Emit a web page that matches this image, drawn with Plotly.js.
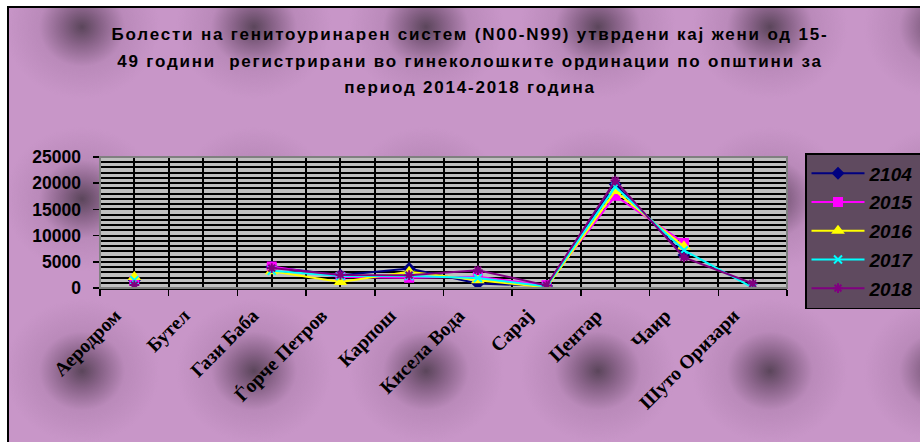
<!DOCTYPE html>
<html><head><meta charset="utf-8">
<script src="https://cdn.plot.ly/plotly-3.0.1.min.js"></script>
<style>
body{margin:0;background:#fff;}
#wrap{position:relative;width:920px;height:442px;overflow:hidden;}
#bg{position:absolute;left:7px;top:6px;width:1000px;height:500px;border-top:2px solid #000;border-left:2px solid #000;background-color:#c896c8;
background-image:radial-gradient(ellipse 78px 72px at 86px 86px, rgba(85,65,85,0.95) 0%, rgba(115,82,115,0.75) 25%, rgba(165,120,165,0.4) 55%, rgba(200,150,200,0) 100%);
background-size:172px 172px;background-position:-13px -67px;}
#chart{position:absolute;left:0;top:0;width:920px;height:442px;}
</style></head>
<body><div id="wrap"><div id="bg"></div><div id="chart"></div></div>
<script>
const categories = ['Аеродром','Бутел','Гази Баба','Ѓорче Петров','Карпош','Кисела Вода','Сарај','Центар','Чаир','Шуто Оризари'];
const seriesNames = ['2104','2015','2016','2017','2018'];
const v2104 = [1500, null, 4000, 2450, 3700, 850, 400, 19800, 6300, null];
const v2015 = [1350, null, 4100, 2100, 1950, 2150, 550, 17600, 8600, null];
const v2016 = [2100, null, 3200, 1150, 3100, 1500, 100, 18500, 7900, null];
const v2017 = [1500, null, 3300, 2300, 2300, 1900, 300, 19300, 7200, 80];
const v2018 = [550, null, 3800, 2500, 2450, 3400, 500, 20500, 5850, 850];
const seriesValues = [v2104, v2015, v2016, v2017, v2018];

const colors = ['#000080','#ff00ff','#ffff00','#00ffff','#800080'];
const symbols = ['diamond','square','triangle-up','x-thin','asterisk'];
const msizes = [10, 10, 12, 8, 8];

const xIdx = categories.map((c,i)=>i);

const traces = seriesNames.map((n,k)=>({
  type:'scatter', mode:'lines+markers', name:n, x:xIdx, y:seriesValues[k],
  connectgaps:false, legendgroup:n,
  line:{color:colors[k], width:2},
  marker:{symbol:symbols[k], size:msizes[k], color:colors[k], line:{color:colors[k], width:(k>=3?2:0)}}
}));

const t1 = 'Болести на генитоуринарен систем (N00-N99) утврдени кај жени од 15-';
const t2 = '49 години\u00a0 регистрирани во гинеколошките ординации по општини за';
const t3 = 'период 2014-2018 година';
const sp = s => '<span style="font-size:17px;letter-spacing:1.8px">'+s+'</span>';

const layout = {
  width:920, height:442,
  margin:{l:100, r:133, t:157, b:154},
  paper_bgcolor:'rgba(0,0,0,0)', plot_bgcolor:'#c0c0c0',
  font:{family:'Liberation Sans, Arial, sans-serif', color:'#000'},
  title:{text: sp(t1)+'<br>'+sp(t2)+'<br>'+sp(t3), font:{family:'Liberation Sans, Arial, sans-serif', size:20.5, color:'#000', weight:'bold'},
    x:470/920, xref:'container', xanchor:'center', y:1-40/442, yref:'container', yanchor:'top'},
  xaxis:{range:[-0.5,9.5], tickvals:xIdx, ticktext:categories, tickangle:-45,
    showgrid:true, gridcolor:'#000', gridwidth:2, ticks:'', zeroline:false,
    showline:true, linecolor:'#000', linewidth:1.5,
    tickfont:{family:'Liberation Serif, Times New Roman, serif', size:19.5, color:'#000', weight:'bold'},
    ticklabelstandoff:7, ticklabelshift:-19,
    minor:{tick0:0.5, dtick:1, showgrid:true, gridcolor:'#000', gridwidth:2, ticks:'outside', ticklen:6, tickcolor:'#000', tickwidth:1.5}},
  yaxis:{range:[0,25000], tickvals:[0,5000,10000,15000,20000,25000], tickformat:'d',
    showgrid:true, gridcolor:'#000', gridwidth:2, zeroline:false,
    showline:true, linecolor:'#000', linewidth:1.5, ticks:'outside', ticklen:6, tickcolor:'#000', tickwidth:1.5,
    tickfont:{family:'Liberation Sans, Arial, sans-serif', size:17.5, color:'#000', weight:'bold'},
    ticklabelstandoff:8,
    minor:{dtick:1000, showgrid:true, gridcolor:'#000', gridwidth:2}},
  legend:{xref:'container', yref:'container', x:805/920, y:1-153/442, xanchor:'left', yanchor:'top', bgcolor:'#5f4a5f', bordercolor:'#000', borderwidth:1.5,
    font:{family:'Liberation Sans, Arial, sans-serif', size:19, color:'#000', weight:'bold', style:'italic'},
    traceorder:'grouped', tracegroupgap:1, itemwidth:53},
  shapes:[{type:'rect', xref:'paper', yref:'paper', x0:0, x1:1, y0:0, y1:1, line:{color:'#808080', width:2}, layer:'above'}],
  showlegend:true
};
Plotly.newPlot('chart', traces, layout, {displayModeBar:false, staticPlot:true});
</script></body></html>
